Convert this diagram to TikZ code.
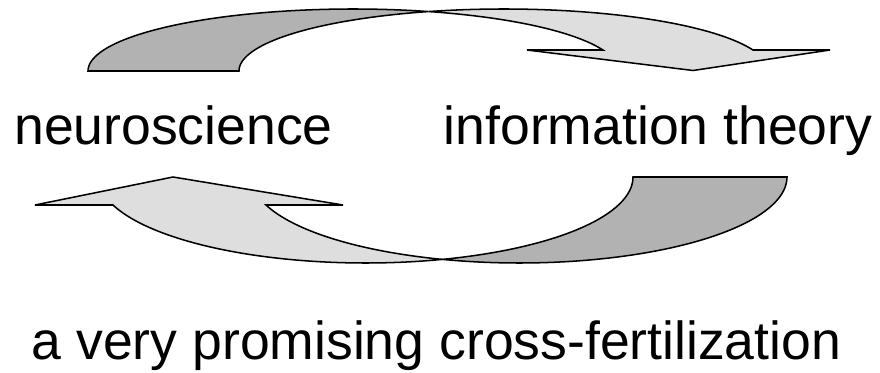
\documentclass[tikz,border=0pt]{standalone}
\usepackage{fontspec}
\setmainfont{Liberation Sans}
\definecolor{underside}{gray}{0.70}
\definecolor{topside}{gray}{0.87}
\begin{document}
\begin{tikzpicture}[x=0.03cm, y=-0.03cm,
  band/.style={draw=black, line width=1.3pt, line join=miter},
  darkband/.style={band, fill=underside},
  lightband/.style={band, fill=topside},
  label/.style={anchor=base, inner sep=0pt, font=\fontsize{45.7}{50}\selectfont}]
\useasboundingbox (0,0) rectangle (880,373);

% upper curved arrow: twisted ribbon from left to right, head pointing down
\filldraw[darkband]
  plot[domain=180:73.5, samples=50, smooth, variable=\t] ({353.3+265.3*cos(\t)}, {71-62*sin(\t)})
  -- plot[domain=106.5:180, samples=50, smooth, variable=\t] ({503.8+264.8*cos(\t)}, {71-62*sin(\t)})
  -- cycle;
\filldraw[lightband]
  plot[domain=106.5:19.8, samples=60, smooth, variable=\t] ({503.8+264.8*cos(\t)}, {71-62*sin(\t)})
  -- (830,50) -- (693,70.5) -- (527,50)
  -- plot[domain=19.8:73.5, samples=40, smooth, variable=\t] ({353.3+265.3*cos(\t)}, {71-62*sin(\t)})
  -- cycle;

% lower curved arrow: twisted ribbon from right to left, head pointing up
\filldraw[darkband]
  plot[domain=0:106.6, samples=60, smooth, variable=\t] ({519.2+267.8*cos(\t)}, {177+86*sin(\t)})
  -- plot[domain=73.3:0, samples=50, smooth, variable=\t] ({365.7+267.3*cos(\t)}, {177+86*sin(\t)})
  -- cycle;
\filldraw[lightband]
  plot[domain=73.3:161, samples=60, smooth, variable=\t] ({365.7+267.3*cos(\t)}, {177+86*sin(\t)})
  -- (35,205) -- (173,177) -- (343,205)
  -- plot[domain=161:106.6, samples=40, smooth, variable=\t] ({519.2+267.8*cos(\t)}, {177+86*sin(\t)})
  -- cycle;

% labels
\node[label] (neuro) at (173.5,145) {neuroscience};
\node[label] (info) at (658,145) {information theory};
\node[label] (caption) at (436.5,359) {a very promising cross-fertilization};
\end{tikzpicture}
\end{document}
